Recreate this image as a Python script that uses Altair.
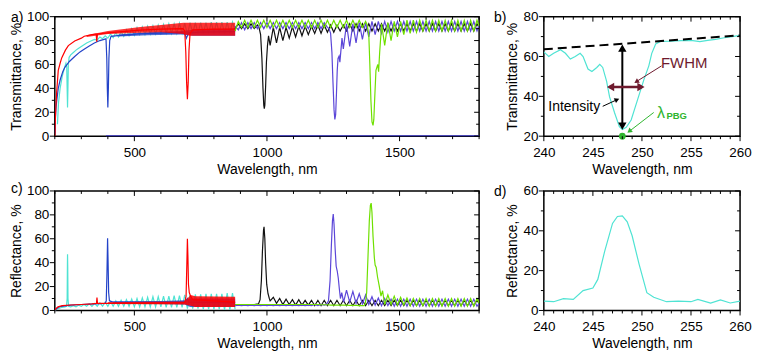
import altair as alt
import pandas as pd

FONT = "Liberation Sans"
CYAN = "#4fe3d3"
BLUE = "#2343c8"
RED = "#ff0000"
BLACK = "#111111"
PURPLE = "#5b46d8"
GREEN = "#6fe000"
MAROON = "#6e1a2e"
LGREEN = "#2fb52f"

WA, WB, H = 426, 197, 120

# ---------------- sampling grids (wavelength, nm) ----------------
G10 = [260, 270, 280, 290, 300, 310, 320, 330, 340, 350,
       360, 370, 380, 390, 400, 410, 420, 430, 440, 450,
       460, 470, 480, 490, 500, 510, 520, 530, 540, 550,
       560, 570, 580, 590, 600, 610, 620, 630, 640, 650,
       660, 670, 680, 690, 700, 710, 720, 730, 740, 750,
       760, 770, 780, 790, 800, 810, 820, 830, 840, 850,
       860, 870, 880]
G12 = [880, 892, 904, 916, 928, 940, 952, 964, 976, 988,
       1000, 1012, 1024, 1036, 1048, 1060, 1072, 1084, 1096, 1108,
       1120, 1132, 1144, 1156, 1168, 1180, 1192, 1204, 1216, 1228,
       1240, 1252, 1264, 1276, 1288, 1300, 1312, 1324, 1336, 1348,
       1360, 1372, 1384, 1396, 1408, 1420, 1432, 1444, 1456, 1468,
       1480, 1492, 1504, 1516, 1528, 1540, 1552, 1564, 1576, 1588,
       1600, 1612, 1624, 1636, 1648, 1660, 1672, 1684, 1696, 1708,
       1720, 1732, 1744, 1756, 1768, 1780, 1792]
N = None

# ---------------- panel a: transmittance ----------------
CYAN_T_P = [(210, 10), (214, 28), (220, 40), (228, 50), (236, 57), (242, 61), (245, 58),
            (246.5, 40), (248, 24), (249.5, 40), (251, 60), (254, 66)]
CYAN_T_G = [68, 70, 72, 73.5, 75, 76.5, 78, 79, 80, 81,
            80.5, 83, 81.5, 84, 82, 85.5, 82.5, 86.5, 83, 87.5,
            83.5, 89, 84, 90, 84.5, 91, 85, 91.5, 85, 92,
            85.5, 92.5, 85.5, 93, 86, 93.5, 86, 94, 86, 94,
            86, 94.5, 86, 94.5, 85, 95, 86, 95, 86, 95,
            86, 95, 86, 95.5, 86, 95.5, 86, 95.5, 86, 95.5,
            86, 95.5, 88]
BLUE_T = [(200, 2), (202, 15), (205, 25), (207, 29), (213, 40), (220, 47), (230, 54), (238, 57.6),
          (255, 62.5), (275, 66.7), (295, 70.5), (312, 73), (330, 75.5), (349, 77.9), (370, 80),
          (386, 81), (393, 81.5), (396, 65), (398, 40), (400, 24), (402, 40), (404, 65), (407, 80),
          (412, 83.5), (436, 84.1), (480, 85), (522, 85.7), (600, 86.2), (683, 86.7), (692, 85),
          (696, 82), (700, 84), (704, 86.5), (750, 87), (880, 87.5)]
BLUE_T_BAND = [(440, 83.5, 85), (550, 84.5, 87), (680, 85, 88), (720, 84, 89), (880, 84, 90)]
RED_T = [(200, 0), (201, 5), (203, 20), (207, 37), (213, 55), (220, 61), (226, 65.5), (240, 72),
         (251, 75.8), (275, 79.7), (300, 82), (311, 83.6), (340, 85), (356, 85.5), (358, 79),
         (361, 85.5), (400, 86.5), (522, 88.7), (600, 89.5), (683, 90), (690, 88), (694, 70),
         (697, 45), (700, 31), (703, 45), (706, 72), (710, 86), (720, 89), (800, 89.5), (880, 89.5)]
RED_T_BAND = [(320, 83, 84.5), (400, 85.5, 88), (522, 86.5, 91.4), (600, 87, 93),
              (685, 85.5, 95), (710, 84, 95), (880, 84, 95)]
BLACK_T_P = [(970, 91), (976, 85), (981, 65), (985, 40), (988, 26), (990, 23), (992, 26), (995, 42),
             (998, 62), (1002, 76), (1006, 84), (1800, 91)]
BLACK_T_G = [90, 94, 90, 94, 90, 94, 90, 93, N, N,
             N, 76, 91, 78, 91, 80, 91, 82, 91.5, 83,
             92, 84, 92, 85, 92, 86, 93, 86, 93, 87,
             93, 87, 93, 88, 93, 88, 94, 88, 94, 88,
             94, 88, 94, 88, 94, 88, 94, 88, 94, 88,
             94, 88, 94, 88, 94, 88, 94, 88, 94, 88,
             94, 88, 94, 88, 94, 88, 94, 88, 94, 88,
             94, 88, 94, 88, 94, 88, 94]
PURPLE_T_P = [(1234, 90), (1240, 86), (1245, 70), (1249, 45), (1253, 22), (1256, 14), (1259, 18),
              (1262, 35), (1265, 55), (1268, 65), (1272, 67), (1275, 62), (1279, 72), (1283, 82),
              (1800, 93)]
PURPLE_T_G = [92, 89, 95, 89, 95, 90, 95, 90, 95, 90,
              95, 90, 95, 90, 95, 90, 95, 90, 95, 90,
              95, 90, 95, 90, 95, 90, 95, 90, 95, 91,
              N, N, N, N, 73, 94, 75, 94, 78, 95,
              81, 95, 83, 96, 85, 96, 86, 96, 87, 96,
              88, 96, 88, 96, 88, 96, 88, 96, 88, 96,
              88, 96, 88, 96, 88, 96, 88, 96, 88, 96,
              88, 96, 88, 96, 88, 96, 88]
GREEN_T_P = [(1378, 93), (1384, 85), (1388, 60), (1392, 30), (1396, 12), (1400, 9), (1403, 14),
             (1407, 35), (1411, 55), (1415, 58), (1418, 60), (1421, 54), (1425, 70), (1430, 86),
             (1800, 92)]
GREEN_T_G = [88, 96, 91, 97, 91, 97, 91, 97, 91, 97,
             91, 97, 91, 97, 91, 97, 91, 97, 91, 97,
             91, 97, 91, 97, 91, 97, 91, 97, 91, 97,
             91, 97, 91, 97, 91, 97, 91, 97, 91, 97,
             91, 96, N, N, N, N, 94, 76, 95, 80,
             96, 83, 96, 85, 97, 86, 97, 87, 97, 88,
             97, 88, 97, 88, 97, 88, 97, 88, 97, 88,
             97, 88, 97, 88, 97, 88, 97]
BLUE_ZERO = [(393, 0), (1800, 0)]

# ---------------- panel c: reflectance ----------------
CYAN_R_P = [(200, 0), (212, 1.5), (225, 2.5), (238, 3), (244, 3.5), (246.5, 10), (247.5, 38),
            (248, 47), (248.7, 38), (249.7, 10), (252, 3.5)]
CYAN_R_G = [3, 4, 3, 4.5, 3.5, 5, 3.5, 5.5, 3.5, 6,
            3.5, 6.5, 3.5, 7, 3.5, 7.5, 3.5, 8, 3.5, 8.5,
            3.5, 9, 3.5, 9.5, 3, 10, 3, 10.5, 3, 11,
            3, 11.5, 3, 11.5, 3, 12, 2.5, 12, 2.5, 12.5,
            2.5, 12.5, 2.5, 13, 1.5, 13, 1.5, 13.5, 1.5, 13.5,
            1, 14, 1, 14, 1, 14, 1, 14, 0.5, 14.5,
            0.5, 14.5, 1]
BLUE_R = [(200, 0), (204, 1), (212, 2.5), (225, 3.5), (260, 4.5), (300, 5), (350, 5.5), (390, 6),
          (394, 8), (396.5, 30), (399, 60.4), (401, 40), (403, 15), (406, 8), (420, 7), (500, 7),
          (600, 7), (690, 7), (700, 10), (705, 7), (880, 6.5)]
BLUE_R_BAND = [(420, 6, 7.5), (600, 5.5, 8), (690, 5, 8.5), (710, 3, 10), (880, 3, 10)]
RED_R = [(200, 0), (204, 1.5), (212, 3), (228, 4), (260, 4.6), (300, 5), (340, 5.5), (357, 6),
         (359, 10.9), (361, 6), (400, 6), (500, 6), (600, 6.2), (690, 6.5), (695, 12), (698, 40),
         (700, 60), (702, 45), (704, 22), (707, 15), (712, 12), (720, 9), (880, 7)]
RED_R_BAND = [(400, 5.5, 6.8), (550, 5.2, 7.2), (690, 5, 7.5), (712, 4, 13), (730, 3, 12),
              (880, 3, 11.5)]
BLACK_R_P = [(968, 5.5), (974, 9), (979, 25), (983, 50), (987, 67), (989, 70), (992, 60), (995, 40),
             (999, 22), (1004, 14), (1009, 10), (1800, 6)]
BLACK_R_G = [5, 5, 5, 5, 5, 5, 5, N, N, N,
             N, 8, 11, 6, 10, 5, 9.5, 5, 9, 4.5,
             9, 4.5, 8.5, 4.5, 8.5, 4, 8.5, 4, 8.5, 4,
             8.5, 4, 8.5, 4, 8.5, 4, 8.5, 4, 8.5, 4,
             8.5, 4, 8.5, 4, 8.5, 4, 8.5, 4, 8.5, 4,
             8.5, 4, 8.5, 4, 8.5, 4, 8.5, 4, 8.5, 4,
             8.5, 4, 8.5, 4, 8.5, 4, 8.5, 4, 8.5, 4,
             8.5, 4, 8.5, 4, 8.5, 4, 8.5]
PURPLE_R_P = [(1224, 5), (1232, 8), (1238, 25), (1243, 55), (1247, 75), (1250, 80.7), (1253, 72),
              (1257, 52), (1261, 37), (1265, 33), (1269, 27), (1273, 18), (1277, 10), (1282, 15),
              (1289, 7), (1800, 6)]
PURPLE_R_G = [4, 4.5, 4, 4.5, 4, 4.5, 4, 4.5, 4, 4.5,
              4, 4.5, 4, 4.5, 4, 4.5, 4, 4.5, 4, 4.5,
              4, 4.5, 4, 4.5, 4, 5, 4, 5, 4.5, N,
              N, N, N, N, N, 17, 7, 16, 6, 14,
              5.5, 13, 5, 11.5, 4.5, 10.5, 4, 10, 4, 9.5,
              3.5, 9.5, 3.5, 9.5, 3.5, 9.5, 3.5, 9.5, 3.5, 9.5,
              3.5, 9.5, 3.5, 9.5, 3.5, 9.5, 3.5, 9.5, 3.5, 9.5,
              3.5, 9.5, 3.5, 9.5, 3.5, 9.5, 3.5]
GREEN_R_P = [(1366, 4), (1371, 6), (1376, 15), (1381, 45), (1386, 75), (1390, 88), (1393, 89.8),
             (1396, 82), (1400, 62), (1405, 44), (1408, 38), (1412, 36), (1417, 28), (1423, 21),
             (1430, 12), (1436, 16.5), (1800, 6)]
GREEN_R_G = [5, 5, 5, 5, 5, 5, 5, 5, 5, 5,
             5, 5, 5, 5, 5, 5, 5, 5, 5, 5,
             5, 5, 5, 5, 5, 5, 5, 4.8, 4.8, 4.8,
             4.5, 4.5, 4.5, 4.5, 4.5, 4.5, 4.2, 4.2, 4.2, 4,
             4, N, N, N, N, N, N, 5, 13, 5,
             12, 4.5, 11, 4.5, 10.5, 4, 10, 4, 10, 4,
             10, 3.5, 10, 3.5, 10, 3.5, 10, 3.5, 10, 3.5,
             10, 3.5, 10, 3.5, 10, 3.5, 10]

# ---------------- panel b / d: zoom on the 248 nm sample ----------------
CYAN_B = [(240.0, 62.3), (240.5, 60.0), (241.0, 61.6), (241.7, 63.4), (242.2, 61.6), (242.7, 58.7),
          (243.2, 60.0), (243.7, 61.6), (244.0, 60.0), (244.5, 53.7), (244.9, 52.5), (245.4, 54.5),
          (245.7, 56.1), (246.0, 54.5), (246.4, 47.5), (246.7, 39.7), (247.2, 31.9), (247.7, 24.8),
          (248.0, 23.3), (248.4, 24.5), (248.9, 28.1), (249.5, 37.5), (250.2, 48.4), (250.7, 55.3),
          (251.0, 61.6), (251.4, 66.3), (251.9, 67.6), (253.0, 67.7), (254.0, 68.0), (255.0, 68.1),
          (255.9, 67.5), (256.7, 68.1), (257.5, 68.6), (258.4, 69.4), (259.2, 70.0), (260.0, 70.6)]
BASELINE_B = [(240, 63.6), (260, 70.6)]
CYAN_D = [(240.0, 4.7), (241.0, 4.4), (242.0, 5.9), (243.0, 5.6), (244.0, 10.0), (245.0, 11.3),
          (245.5, 15.6), (246.2, 29.7), (247.0, 43.7), (247.5, 47.2), (248.0, 47.5), (248.5, 44.5),
          (249.0, 37.5), (249.7, 23.4), (250.5, 8.9), (251.2, 6.6), (252.5, 4.4), (253.7, 4.7),
          (255.0, 4.4), (255.7, 5.6), (257.0, 3.75), (258.0, 5.3), (259.0, 3.75), (260.0, 4.7)]

# ---------------- tick positions ----------------
XA_MAJ = [500, 1000, 1500]
XA_MIN = [200, 300, 400, 600, 700, 800, 900, 1100, 1200, 1300, 1400, 1600, 1700, 1800]
XB_MAJ = [240, 245, 250, 255, 260]
XB_MIN = [241, 242, 243, 244, 246, 247, 248, 249, 251, 252, 253, 254, 256, 257, 258, 259]
Y100_MAJ = [0, 20, 40, 60, 80, 100]
Y100_MIN = [10, 30, 50, 70, 90]
YB_MAJ = [20, 40, 60, 80]
YB_MIN = [30, 50, 70]
YD_MAJ = [0, 20, 40, 60]
YD_MIN = [10, 30, 50]


def pts(pairs, grid=None, vals=None):
    p = list(pairs)
    if grid is not None:
        p += [(g, v) for g, v in zip(grid, vals) if v is not None]
    p.sort(key=lambda q: q[0])
    return pd.DataFrame(p, columns=["wl", "v"])


def band(rows):
    return pd.DataFrame(rows, columns=["wl", "v", "v2"])


def line(df, color, X, Y, w=1.2, dash=None, clip=True):
    kw = dict(color=color, strokeWidth=w, clip=clip)
    if dash:
        kw["strokeDash"] = dash
    return alt.Chart(df).mark_line(**kw).encode(x=X, y=Y)


def area(df, color, X, Y, op=0.85):
    return alt.Chart(df).mark_area(color=color, opacity=op, clip=True).encode(
        x=X, y=Y, y2=alt.Y2("v2:Q"))


def txt(x, y, s, X, Y, **kw):
    df = pd.DataFrame({"wl": [x], "v": [y], "t": [s]})
    return alt.Chart(df).mark_text(font=FONT, **kw).encode(x=X, y=Y, text="t:N")


def head(x, y, ang, color, X, Y, size=60):
    df = pd.DataFrame({"wl": [x], "v": [y]})
    return alt.Chart(df).mark_point(shape="triangle-up", filled=True, size=size, angle=ang,
                                    color=color, opacity=1, strokeWidth=0).encode(x=X, y=Y)


def panel(W, xdom, ydom, xlab, ylab, ytitle, xmaj, xmin, ymaj, ymin, tag, tag_xy, content):
    X = alt.X("wl:Q", scale=alt.Scale(domain=xdom, nice=False, zero=False),
              axis=alt.Axis(values=xlab, title="Wavelength, nm", ticks=False, domain=False,
                            grid=False, labelPadding=9, titlePadding=4, labelFlush=False,
                            labelOverlap=False, format="d"))
    Y = alt.Y("v:Q", scale=alt.Scale(domain=ydom, nice=False, zero=False),
              axis=alt.Axis(values=ylab, title=ytitle, ticks=False, domain=False, grid=False,
                            labelPadding=6, titlePadding=3, labelOverlap=False, format="d"))
    layers = content(X, Y)
    for vals, ln in ((xmaj, 5), (xmin, 3)):
        base = alt.Chart(pd.DataFrame({"wl": vals})).mark_rule(color="black", strokeWidth=1)
        layers.append(base.encode(x=X, y=alt.value(H), y2=alt.value(H + ln)))
        layers.append(base.encode(x=X, y=alt.value(0), y2=alt.value(ln)))
    for vals, ln in ((ymaj, 5), (ymin, 3)):
        base = alt.Chart(pd.DataFrame({"v": vals})).mark_rule(color="black", strokeWidth=1)
        layers.append(base.encode(y=Y, x=alt.value(0), x2=alt.value(-ln)))
        layers.append(base.encode(y=Y, x=alt.value(W), x2=alt.value(W - ln)))
    layers.append(alt.Chart(pd.DataFrame({"t": [tag]})).mark_text(
        font=FONT, fontSize=14, align="left", baseline="top", color="black").encode(
        x=alt.value(tag_xy[0]), y=alt.value(tag_xy[1]), text="t:N"))
    return alt.layer(*layers).properties(width=W, height=H)


def content_a(X, Y):
    return [
        line(pts(CYAN_T_P, G10, CYAN_T_G), CYAN, X, Y),
        area(band(BLUE_T_BAND), BLUE, X, Y, 0.8),
        line(pts(BLUE_T), BLUE, X, Y),
        area(band(RED_T_BAND), RED, X, Y, 0.8),
        line(pts(RED_T), RED, X, Y),
        line(pts(BLACK_T_P, G12, BLACK_T_G), BLACK, X, Y),
        line(pts(PURPLE_T_P, G12, PURPLE_T_G), PURPLE, X, Y),
        line(pts(GREEN_T_P, G12, GREEN_T_G), GREEN, X, Y),
        line(pts(BLUE_ZERO), "#3a36c8", X, Y, w=2),
    ]


def content_c(X, Y):
    return [
        line(pts(CYAN_R_P, G10, CYAN_R_G), CYAN, X, Y),
        area(band(BLUE_R_BAND), BLUE, X, Y, 0.8),
        line(pts(BLUE_R), BLUE, X, Y),
        area(band(RED_R_BAND), RED, X, Y, 0.85),
        line(pts(RED_R), RED, X, Y),
        line(pts(BLACK_R_P, G12, BLACK_R_G), BLACK, X, Y),
        line(pts(PURPLE_R_P, G12, PURPLE_R_G), PURPLE, X, Y),
        line(pts(GREEN_R_P, G12, GREEN_R_G), GREEN, X, Y),
    ]


def content_b(X, Y):
    return [
        line(pts(CYAN_B), CYAN, X, Y, w=1.2),
        line(pts(BASELINE_B), "black", X, Y, w=2, dash=[9, 5]),
        line(pts([(248, 25.0), (248, 64.5)]), "black", X, Y, w=2, clip=False),
        head(248, 64.2, 0, "black", X, Y, 70),
        head(248, 25.0, 180, "black", X, Y, 70),
        line(pts([(246.7, 44.7), (250.0, 44.7)]), MAROON, X, Y, w=2.5, clip=False),
        head(246.8, 44.7, 270, MAROON, X, Y, 70),
        head(249.9, 44.7, 90, MAROON, X, Y, 70),
        line(pts([(249.4, 47.3), (252.0, 55.3)]), MAROON, X, Y, w=1, clip=False),
        head(249.43, 47.35, 238, MAROON, X, Y, 30),
        txt(254.3, 56.6, "FWHM", X, Y, fontSize=15, color=MAROON, align="center", baseline="middle"),
        line(pts([(246.0, 35.0), (247.5, 38.4)]), "black", X, Y, w=1, clip=False),
        head(247.46, 38.34, 65, "black", X, Y, 30),
        txt(243.1, 34.5, "Intensity", X, Y, fontSize=14, color="black", align="center",
            baseline="middle"),
        line(pts([(248.7, 22.4), (251.2, 31.9)]), LGREEN, X, Y, w=1, clip=False),
        head(248.71, 22.5, 232, LGREEN, X, Y, 30),
        txt(251.95, 31.7, "λ", X, Y, fontSize=16, color=LGREEN, align="center", baseline="middle"),
        txt(252.5, 30.0, "PBG", X, Y, fontSize=9.5, fontWeight="bold", color=LGREEN,
            align="left", baseline="middle"),
        alt.Chart(pd.DataFrame({"wl": [248], "v": [20]})).mark_point(
            shape="circle", filled=True, size=45, color=LGREEN, opacity=1).encode(x=X, y=Y),
    ]


def content_d(X, Y):
    return [line(pts(CYAN_D), CYAN, X, Y, w=1.2)]


pa = panel(WA, [200, 1800], [0, 100], XA_MAJ, Y100_MAJ, "Transmittance, %",
           XA_MAJ, XA_MIN, Y100_MAJ, Y100_MIN, "a)", (-44, -6), content_a)
pb = panel(WB, [240, 260], [20, 80], XB_MAJ, YB_MAJ, "Transmittance, %",
           XB_MAJ, XB_MIN, YB_MAJ, YB_MIN, "b)", (-50, -6), content_b)
pc = panel(WA, [200, 1800], [0, 100], XA_MAJ, Y100_MAJ, "Reflectance, %",
           XA_MAJ, XA_MIN, Y100_MAJ, Y100_MIN, "c)", (-44, -9), content_c)
pdd = panel(WB, [240, 260], [0, 60], XB_MAJ, YD_MAJ, "Reflectance, %",
            XB_MAJ, XB_MIN, YD_MAJ, YD_MIN, "d)", (-50, -6), content_d)

chart = alt.concat(pa, pb, pc, pdd, columns=2, spacing={"row": 55, "column": 65},
                   bounds="flush", align="each").properties(
    padding={"left": 0, "top": 0, "right": 0, "bottom": 0}
).configure_view(stroke="black", strokeWidth=1.5).configure_axis(
    labelFont=FONT, titleFont=FONT, labelFontSize=13.5, titleFontSize=14,
    titleFontWeight="normal", labelColor="black", titleColor="black")

chart.save("out.html", embed_options={"renderer": "svg", "actions": False})
